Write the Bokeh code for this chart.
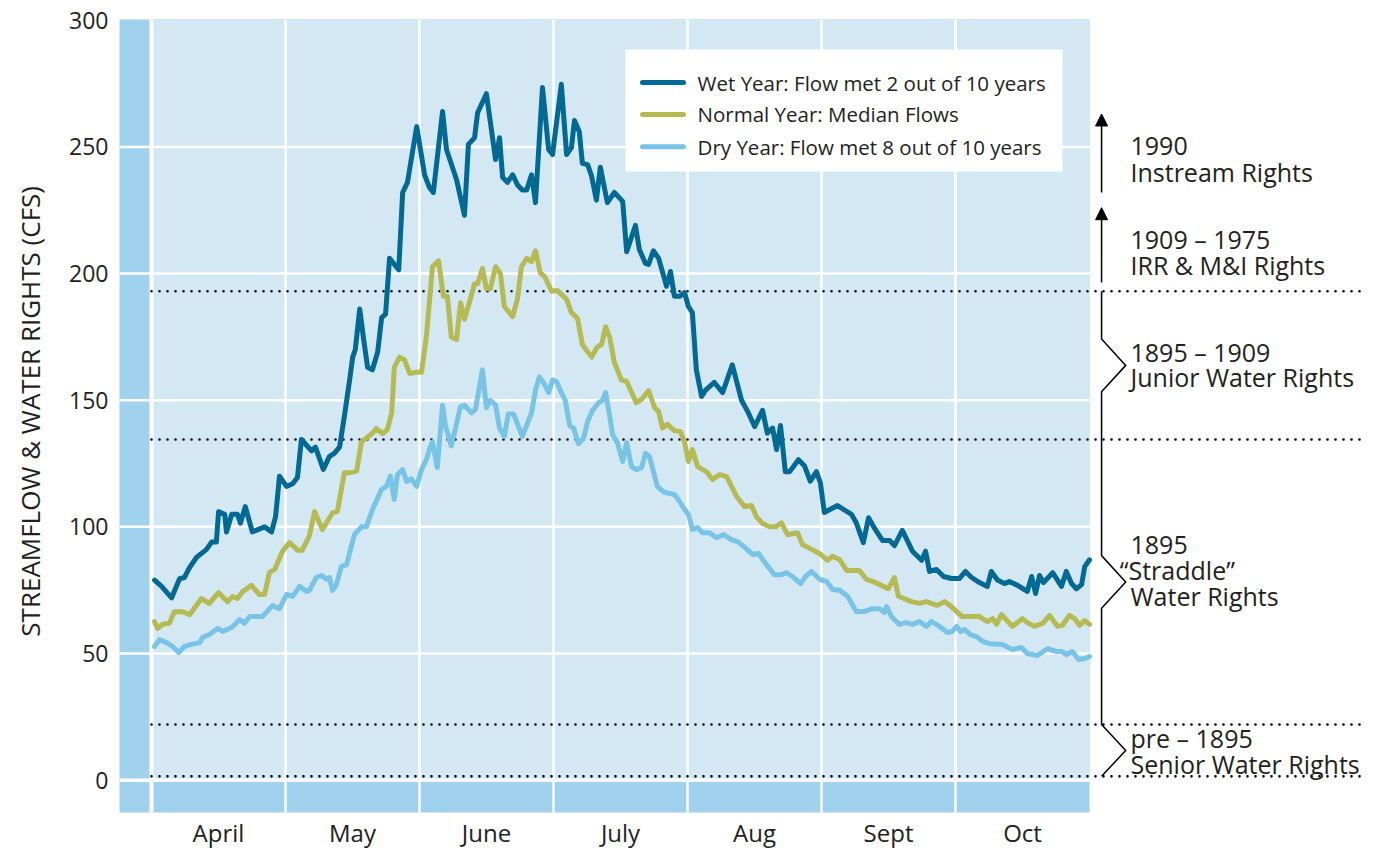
import numpy as np
from bokeh.plotting import figure
from bokeh.models import Range1d, Arrow, NormalHead
from bokeh.core.properties import value
from bokeh.embed import file_html
from bokeh.resources import INLINE

# ---------------- data ----------------
months = ["April", "May", "June", "July", "Aug", "Sept", "Oct"]
SEASON_DAYS = 214  # April 1 .. October 31

wet_day = [0.7, 2.3, 4.6, 6.4, 7.5, 8.7, 10.3, 12.5, 13.7, 14.8,
           15.3, 16.7, 17.1, 18.3, 19.6, 20.3, 21.4, 23.0, 25.8, 27.4,
           28.3, 29.2, 30.8, 32.2, 33.3, 34.2, 36.5, 37.4, 39.2, 40.6,
           41.7, 42.9, 44.0, 45.2, 45.9, 46.5, 47.5, 48.4, 49.3, 50.4,
           51.6, 52.5, 53.4, 54.3, 56.4, 57.3, 58.4, 60.5, 62.3, 63.4,
           64.3, 66.4, 67.3, 69.6, 71.4, 72.3, 73.7, 74.4, 76.4, 78.5,
           79.4, 80.1, 81.2, 82.4, 83.5, 84.6, 85.6, 86.7, 87.6, 89.2,
           90.6, 91.5, 93.5, 94.7, 95.8, 96.5, 97.6, 98.3, 99.5, 100.4,
           101.5, 102.4, 104.0, 105.6, 107.5, 108.4, 110.4, 111.3, 112.7, 113.4,
           114.5, 115.7, 117.5, 118.4, 119.3, 120.5, 121.6, 122.5, 123.4, 124.3,
           125.5, 126.4, 128.4, 130.3, 132.5, 134.6, 136.0, 137.6, 139.4, 140.5,
           141.7, 142.6, 143.5, 144.6, 145.6, 147.6, 149.0, 150.3, 151.7, 152.6,
           153.5, 156.5, 159.7, 160.8, 162.4, 163.6, 164.9, 166.8, 168.4, 169.5,
           171.3, 173.6, 175.7, 176.6, 177.5, 179.1, 180.7, 182.5, 184.3, 185.7,
           187.1, 188.9, 190.7, 191.6, 193.0, 194.6, 195.7, 197.6, 199.8, 200.8,
           201.7, 202.6, 203.5, 205.6, 207.6, 208.7, 209.9, 211.0, 212.2, 212.9,
           214.0]
wet_cfs = [79, 76.5, 72, 79.5, 80, 84, 88, 91, 94, 94,
           106, 105, 98, 105, 105, 101.5, 108, 98, 100, 98,
           104, 120, 116, 117, 119.5, 134.5, 130, 131.5, 122.7, 127.8,
           129, 131.5, 143.6, 158, 167, 170, 186, 174, 163, 162,
           169, 182.6, 184, 206, 201.5, 232, 236, 258, 239, 234,
           232, 264, 249, 237, 223, 251, 253.6, 263.5, 271, 245,
           253.6, 238, 236, 239, 235, 233, 233, 239, 228, 273.5,
           249, 247, 274.7, 247, 249.7, 260.4, 256, 243.5, 243, 238.5,
           229, 242, 228, 232, 228.5, 208.6, 219, 209.5, 204, 203.6,
           209, 206, 195, 200.8, 191, 191, 192.5, 187, 184.6, 162,
           151.5, 154, 157, 153, 164, 150, 145.6, 139.6, 146, 137,
           139, 130.5, 140, 121.8, 121.8, 126.5, 124, 118, 121.8, 117.4,
           105.7, 108.4, 104.9, 101.6, 93.8, 103.6, 99.6, 94.6, 94.6, 92.6,
           98.6, 90.4, 86.8, 90.4, 82.4, 83.2, 80.4, 79.6, 79.6, 82.4,
           80, 78, 76.5, 82.4, 79, 77.6, 78.4, 76.9, 74.5, 80.4,
           73.7, 80.8, 78, 81.9, 76.5, 82.4, 77.6, 75.6, 77.2, 84.3,
           87]

normal_day = [0.7, 1.4, 2.5, 4.1, 5.2, 7.1, 8.7, 11.4, 13.2, 15.3,
              17.3, 18.5, 19.6, 20.8, 22.8, 24.6, 25.8, 26.9, 28.1, 29.9,
              31.5, 33.3, 34.4, 36.0, 37.2, 39.0, 41.3, 42.4, 44.0, 45.2,
              46.8, 47.9, 49.0, 50.4, 51.3, 52.7, 53.8, 54.8, 55.4, 56.6,
              57.7, 58.9, 60.5, 61.6, 62.7, 64.1, 65.5, 66.6, 67.5, 68.4,
              69.6, 70.5, 71.4, 72.5, 73.7, 74.4, 75.5, 76.4, 77.3, 78.5,
              79.6, 80.5, 82.4, 83.5, 84.4, 85.6, 86.7, 87.6, 88.7, 89.7,
              91.3, 92.6, 94.7, 95.8, 97.2, 98.3, 100.4, 101.7, 102.7, 103.6,
              104.5, 105.6, 107.2, 108.4, 110.6, 111.8, 113.4, 114.8, 115.7, 116.6,
              117.7, 119.3, 120.7, 121.6, 122.5, 123.4, 124.6, 126.6, 128.0, 129.6,
              131.2, 133.5, 135.3, 136.9, 138.0, 139.4, 141.0, 142.4, 143.7, 145.1,
              147.4, 148.5, 150.6, 152.4, 154.2, 155.4, 157.0, 158.6, 161.5, 163.1,
              164.5, 166.5, 168.1, 169.5, 170.4, 172.2, 173.4, 175.2, 176.8, 177.9,
              179.3, 180.9, 182.5, 183.9, 185.0, 186.6, 188.9, 190.7, 191.9, 192.8,
              193.9, 196.4, 198.7, 199.8, 201.4, 203.3, 204.9, 206.7, 207.8, 209.4,
              210.6, 211.7, 212.9, 214.0]
normal_cfs = [62.6, 59.9, 61.5, 62, 66.5, 66.5, 65.3, 71.7, 69.8, 74,
              70.5, 72.5, 71.7, 74.5, 76.9, 73.3, 73.3, 82, 83.2, 90.4,
              93.8, 90.8, 90.8, 96.3, 106, 99, 105.6, 106, 121.4, 121.4,
              122, 133.6, 135, 137, 138.8, 136.8, 138.4, 145, 163, 167,
              166, 160.6, 161, 161, 175, 202.7, 205, 191, 191, 175,
              174, 188.5, 182, 188.5, 196, 196, 202, 194, 194, 202.7,
              200, 187, 183, 190, 202.7, 206, 204.7, 209, 200.3, 198.8,
              193, 193.3, 189.8, 184.6, 182.3, 172, 167, 171, 172, 179,
              175, 165, 158, 157.4, 149, 150.3, 153.8, 147, 145.6, 139,
              140.5, 138, 137.6, 133.5, 125.8, 130.5, 123.8, 121.8, 118.7, 120.6,
              119.8, 112, 108, 108.4, 104, 101.3, 100, 100, 101.6, 96.9,
              97.7, 93, 91.1, 89.5, 86.8, 88.4, 87, 82.8, 82.8, 79.3,
              78.5, 76.9, 75.6, 80, 72.6, 71.3, 70.5, 69.8, 70.5, 69.8,
              69, 70.5, 68.5, 66.2, 64.6, 64.6, 64.6, 62.6, 63.8, 61.5,
              65.4, 60.7, 63.8, 62.2, 60.7, 61.9, 65, 60.7, 61.1, 65,
              63.8, 61.1, 63, 61.5]

dry_day = [0.7, 1.8, 3.4, 4.8, 6.2, 7.5, 9.1, 11.0, 11.6, 13.2,
           15.1, 16.2, 18.3, 20.1, 21.2, 22.4, 25.3, 27.6, 29.2, 30.8,
           32.2, 33.8, 35.4, 36.0, 37.6, 38.8, 39.9, 40.6, 41.3, 42.2,
           43.3, 44.5, 46.3, 47.9, 49.0, 50.4, 52.5, 53.6, 54.5, 55.4,
           56.1, 57.3, 58.2, 59.3, 60.5, 61.6, 62.7, 63.4, 64.1, 65.2,
           66.4, 67.1, 68.4, 70.5, 71.4, 73.0, 73.9, 75.5, 76.4, 77.3,
           78.5, 79.4, 80.5, 81.4, 82.6, 84.6, 86.7, 87.6, 88.5, 89.4,
           90.6, 91.5, 92.4, 93.5, 94.4, 95.4, 96.3, 97.4, 98.6, 99.5,
           100.6, 102.0, 102.9, 103.6, 104.5, 105.2, 106.3, 107.5, 108.4, 109.5,
           110.6, 111.8, 112.7, 113.6, 115.4, 117.0, 119.3, 120.5, 121.6, 122.5,
           123.4, 124.6, 125.7, 127.3, 128.9, 130.5, 132.3, 133.7, 135.7, 137.1,
           138.5, 140.3, 142.1, 143.7, 144.9, 146.2, 148.1, 149.2, 150.6, 152.4,
           154.0, 155.4, 157.0, 158.8, 160.8, 162.7, 164.5, 166.1, 167.2, 167.7,
           168.8, 170.6, 172.2, 173.6, 175.2, 176.8, 177.9, 179.8, 181.6, 182.7,
           183.7, 184.6, 185.5, 186.8, 188.2, 189.6, 191.2, 194.1, 196.4, 198.5,
           199.8, 202.1, 204.4, 206.5, 207.6, 208.8, 210.1, 211.5, 212.9, 214.0]
dry_cfs = [52.8, 55.5, 54.3, 52.8, 50.4, 52.8, 53.6, 54.3, 56.3, 57.5,
           59.9, 58.7, 60.3, 63.4, 61.9, 64.6, 64.6, 68.9, 67.7, 73.3,
           72.6, 76.5, 74.5, 74.9, 80, 80.8, 79.3, 80, 74.9, 77.3,
           84.3, 85.1, 97, 100, 100, 106.8, 114.8, 116, 120, 110.8,
           120.6, 122.6, 117.9, 119, 116, 122.6, 126.5, 130.5, 133.6, 123.4,
           148, 139.6, 132, 147.5, 148, 145, 146.4, 162, 147, 149.9,
           148, 139, 135.7, 144.6, 144.6, 135.7, 145, 154, 159.2, 157,
           153, 158, 157.4, 153, 149.9, 140, 139, 132.8, 135.2, 141.6,
           146, 149, 149.9, 153, 144, 136.4, 133.2, 125.8, 133.2, 123.8,
           122.6, 123.4, 129, 127.8, 116, 113.6, 112.8, 110, 106.9, 104.9,
           99, 99.7, 97.7, 97.7, 95.7, 96.9, 95, 94.2, 91.4, 89.1,
           89.5, 85.1, 81.1, 81.1, 81.9, 80.4, 77.6, 80.4, 82.4, 79.3,
           78.5, 75.3, 75, 72.6, 66.6, 66.6, 67.7, 67.7, 66.2, 68.5,
           64.6, 61.5, 62.2, 61.5, 62.6, 60.7, 62.6, 60.7, 58.3, 58.7,
           60.7, 58.7, 59.5, 57.5, 56.7, 54.8, 53.9, 53.6, 51.6, 52.4,
           50, 49.2, 51.9, 50.8, 50.8, 49.6, 50.8, 47.6, 48, 48.8]

series_labels = ["Wet Year: Flow met 2 out of 10 years",
                 "Normal Year: Median Flows",
                 "Dry Year: Flow met 8 out of 10 years"]

# water-right thresholds (cfs)
rights_levels = [193, 134.5, 22, 1.5]
rights_text = [["1990", "Instream Rights"],
               ["1909 \u2013 1975", "IRR & M&I Rights"],
               ["1895 \u2013 1909", "Junior Water Rights"],
               ["1895", "\u201cStraddle\u201d", "Water Rights"],
               ["pre \u2013 1895", "Senior Water Rights"]]
y_ticks = [0, 50, 100, 150, 200, 250, 300]
y_tick_labels = [str(t) for t in y_ticks]
y_title = "STREAMFLOW & WATER RIGHTS (CFS)"

# ---------------- style ----------------
FONT = "Open Sans"
TEXT = "#231f20"
LIGHT = "#d4e8f4"
DARK = "#a0d2ed"
C_WET, C_NORMAL, C_DRY = "#006994", "#b5ba52", "#78c4e6"
LW = 5

X0, X1 = -1.1269, 9.1716       # months from April 1 (frame covers the whole canvas)
Y0, Y1 = -26.98, 307.8
PLOT_TOP = 300.3
N_MONTHS = len(months)
BAND_LEFT = -0.2388
BAND_BOTTOM = -12.75

def to_month(days):
    return np.array(days) * N_MONTHS / SEASON_DAYS

p = figure(width=1380, height=848, output_backend="svg", toolbar_location=None,
           x_range=Range1d(X0, X1), y_range=Range1d(Y0, Y1),
           x_axis_location=None, y_axis_location=None,
           min_border_left=0, min_border_right=0, min_border_top=0, min_border_bottom=0)
p.outline_line_color = None
p.background_fill_color = "white"
p.border_fill_color = "white"
p.xgrid.visible = False
p.ygrid.visible = False

# background bands
p.quad(left=[BAND_LEFT], right=[N_MONTHS], bottom=[BAND_BOTTOM], top=[PLOT_TOP], color=DARK, line_color=None)
p.quad(left=[0], right=[N_MONTHS], bottom=[0], top=[PLOT_TOP], color=LIGHT, line_color=None)
mb = list(range(N_MONTHS))
p.segment(x0=mb, y0=[BAND_BOTTOM] * len(mb), x1=mb, y1=[PLOT_TOP] * len(mb),
          line_color="white", line_width=[4] + [2.5] * (len(mb) - 1))
hl = y_ticks[:-1]
p.segment(x0=[BAND_LEFT] * len(hl), y0=hl, x1=[N_MONTHS] * len(hl), y1=hl,
          line_color="white", line_width=[3.5] + [2.5] * (len(hl) - 1))

# y tick labels and title
p.text(x=[-0.3209] * len(y_ticks), y=y_ticks, text=y_tick_labels,
       text_font=value(FONT), text_font_size="23px", text_color=TEXT,
       text_align="right", text_baseline="middle")
p.text(x=[-0.9104], y=[145.6], text=[y_title], angle=np.pi / 2,
       text_font=value(FONT), text_font_size="26px", text_color=TEXT,
       text_align="center", text_baseline="middle")

# month labels
p.text(x=[k + 0.5 for k in range(N_MONTHS)], y=[-20.8] * N_MONTHS, text=months,
       text_font=value(FONT), text_font_size="24px", text_color=TEXT,
       text_align="center", text_baseline="middle")

# dotted water-rights lines
DOT_END = 9.06
p.segment(x0=[0] * 4, y0=rights_levels, x1=[DOT_END] * 4, y1=rights_levels,
          line_color="black", line_width=2.6, line_dash="0 8", line_cap="round")

# flow series
p.line(to_month(wet_day), wet_cfs, line_color=C_WET, line_width=LW,
       line_join="round", line_cap="round")
p.line(to_month(normal_day), normal_cfs, line_color=C_NORMAL, line_width=LW,
       line_join="round", line_cap="round")
p.line(to_month(dry_day), dry_cfs, line_color=C_DRY, line_width=LW,
       line_join="round", line_cap="round")

# legend box (drawn by hand)
LG_L, LG_R, LG_B, LG_T = 3.537, 6.799, 240.3, 288.5
rows = [275.4, 262.8, 250.1]
p.quad(left=[LG_L], right=[LG_R], bottom=[LG_B], top=[LG_T], color="white", line_color=None)
p.segment(x0=[3.664] * 3, x1=[3.970] * 3, y0=rows, y1=rows,
          line_color=[C_WET, C_NORMAL, C_DRY], line_width=LW, line_cap="round")
p.text(x=[4.075] * 3, y=rows, text=series_labels, text_font=value(FONT),
       text_font_size="20.5px", text_color=TEXT, text_align="left", text_baseline="middle")

# bracket for water-rights periods
BX = 7.09
TIP = BX + 0.18
K = 10.4
top, mid, low, base = rights_levels
jm = (top + mid) / 2
sm = (mid + low) / 2
nm = (low + base) / 2
bx_path = [BX, BX, TIP, BX, BX, TIP, BX, BX, TIP, BX]
by_path = [top, jm + K, jm, jm - K, sm + K, sm, sm - K, low, nm, base]
p.line(bx_path, by_path, line_color="black", line_width=1.5, line_join="miter")

for ys, ye in [(232, 263), (196.5, 226)]:
    p.add_layout(Arrow(end=NormalHead(size=12, fill_color="black", line_color="black", line_width=1),
                       x_start=BX, y_start=ys, x_end=BX, y_end=ye,
                       line_color="black", line_width=1.5))

TX = 7.306
text_y = [[250.5, 239.9], [213.5, 203.5], [169.2, 159.1], [92.8, 82.9, 72.6], [16.7, 6.4]]
txs, tys, tts = [], [], []
for lines, ys in zip(rights_text, text_y):
    for t, yv in zip(lines, ys):
        txs.append(TX - (0.08 if t.startswith("\u201c") else 0))
        tys.append(yv)
        tts.append(t)
p.text(x=txs, y=tys, text=tts, text_font=value(FONT), text_font_size="25px",
       text_color=TEXT, text_align="left", text_baseline="middle")

open("out.html", "w").write(file_html(p, INLINE))
